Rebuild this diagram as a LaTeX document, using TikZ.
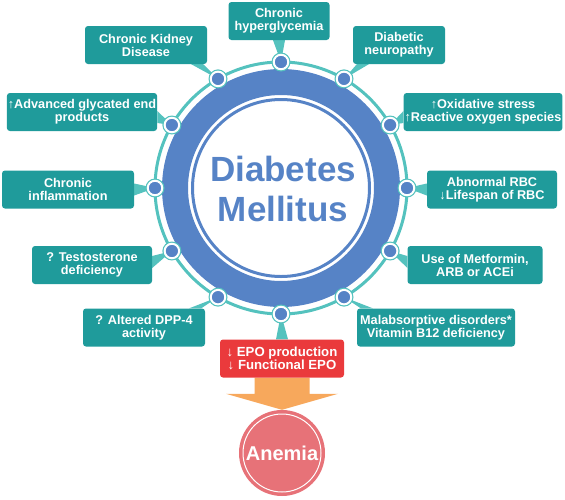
\documentclass[tikz,border=0pt]{standalone}
\usepackage{fontspec}
\setmainfont{Liberation Sans}
\usetikzlibrary{shapes,arrows,positioning,calc}
\pgfdeclarelayer{background}
\pgfsetlayers{background,main}
\definecolor{boxteal}{RGB}{31,155,155}
\definecolor{ringteal}{RGB}{84,194,190}
\definecolor{dmblue}{RGB}{86,131,198}
\definecolor{epored}{RGB}{234,58,60}
\definecolor{arrorange}{RGB}{247,168,92}
\definecolor{anemiapink}{RGB}{231,114,120}
\newcommand{\uparr}{{\mdseries ↑}}
\newcommand{\dnarr}{{\mdseries ↓}}

\begin{document}
\begin{tikzpicture}[x=1pt,y=-1pt]
\tikzset{font={\fontsize{12.7}{13}\selectfont\bfseries}}
\tikzset{cause/.style={rectangle,rounded corners=3pt,fill=boxteal,text=white,align=center,inner sep=1pt,minimum height=38pt}}
\tikzset{dot/.style={circle,fill=dmblue,draw=white,line width=2pt,minimum size=14.5pt,inner sep=0pt}}
\tikzset{pointer/.style={fill=ringteal}}
\useasboundingbox (0,0) rectangle (565,499);

%Causes
\node[cause,minimum width=101pt] (hyper) at (279,21) {Chronic\\hyperglycemia};
\node[cause,minimum width=122pt] (ckd) at (146,45) {Chronic Kidney\\Disease};
\node[cause,minimum width=92pt] (neuro) at (399,45) {Diabetic\\neuropathy};
\node[cause,minimum width=150pt] (ages) at (82,112) {\uparr Advanced glycated end\\products};
\node[cause,minimum width=158pt] (oxid) at (483,112) {\uparr Oxidative stress\\\uparr Reactive oxygen species};
\node[cause,minimum width=132pt] (inflam) at (68,189.5) {Chronic\\inflammation};
\node[cause,minimum width=130pt] (rbc) at (492,189.5) {Abnormal RBC\\\dnarr Lifespan of RBC};
\node[cause,minimum width=120pt] (testo) at (92,265) {? Testosterone\\deficiency};
\node[cause,minimum width=135pt] (metf) at (475,265) {Use of Metformin,\\ARB or ACEi};
\node[cause,minimum width=122pt] (dpp) at (144,327.5) {? Altered DPP-4\\activity};
\node[cause,minimum width=158pt] (malab) at (436,327.5) {Malabsorptive disorders*\\Vitamin B12 deficiency};
\node[cause,fill=epored,minimum width=124pt,font={\fontsize{13.2}{13.5}\selectfont\bfseries}] (epo) at (282,358.5) {\dnarr{} EPO production\\\dnarr{} Functional EPO};

%Center
\coordinate (c) at (281,188);
\node[text=dmblue,font={\fontsize{35}{40}\selectfont\bfseries},align=center] (dm) at (283,189) {Diabetes\\Mellitus};

%Dots
\foreach \a/\n in {90/hyper,120/ckd,60/neuro,150/ages,30/oxid,180/inflam,0/rbc,210/testo,-30/metf,240/dpp,-60/malab,270/epo}
{
\fill[ringteal] ($(c)+(\a:126pt)$) circle (9.5pt);
\node[dot] (\n-dot) at ($(c)+(\a:126pt)$) {};
}

%Anemia
\node[circle,fill=anemiapink,minimum size=86pt,text=white,font={\fontsize{20}{22}\selectfont\bfseries}] (anemia) at (282,453) {Anemia};
\draw[white,line width=1pt] (anemia.center) circle (39pt);

%Pointer bases
\coordinate (hyper-base) at (hyper.south);
\coordinate (ckd-base) at ($(ckd.south east)+(-10,0)$);
\coordinate (neuro-base) at ($(neuro.south west)+(10,0)$);
\coordinate (ages-base) at ($(ages.east)+(0,5)$);
\coordinate (oxid-base) at ($(oxid.west)+(0,5)$);
\coordinate (inflam-base) at (inflam.east);
\coordinate (rbc-base) at (rbc.west);
\coordinate (testo-base) at ($(testo.east)+(0,-3)$);
\coordinate (metf-base) at ($(metf.west)+(0,-3)$);
\coordinate (dpp-base) at ($(dpp.north east)+(-10,0)$);
\coordinate (malab-base) at ($(malab.north west)+(10,0)$);
\coordinate (epo-base) at (epo.north);

\begin{pgfonlayer}{background}
%Ring
\draw[ringteal,line width=3pt] (c) circle (126pt);
\draw[dmblue,line width=26pt] (c) circle (106pt);
\draw[dmblue,line width=3pt] (c) circle (88.5pt);

%Pointers
\foreach \n/\dx/\dy in {hyper/6/0,ckd/6/0,neuro/6/0,ages/0/6,oxid/0/6,inflam/0/6,rbc/0/6,testo/0/6,metf/0/6,dpp/6/0,malab/6/0,epo/6/0}
\fill[pointer] (\n-dot.center) -- ($(\n-base)+(\dx,\dy)$) -- ($(\n-base)-(\dx,\dy)$) -- cycle;

%Arrow
\fill[arrorange] ($(epo.south)+(-27.5,0)$) -- ($(epo.south)+(27.5,0)$) -- ($(anemia.north)+(27.5,-16)$) -- ($(anemia.north)+(56,-16)$) -- (anemia.north) -- ($(anemia.north)+(-56,-16)$) -- ($(anemia.north)+(-27.5,-16)$) -- cycle;
\end{pgfonlayer}

\end{tikzpicture}
\end{document}
